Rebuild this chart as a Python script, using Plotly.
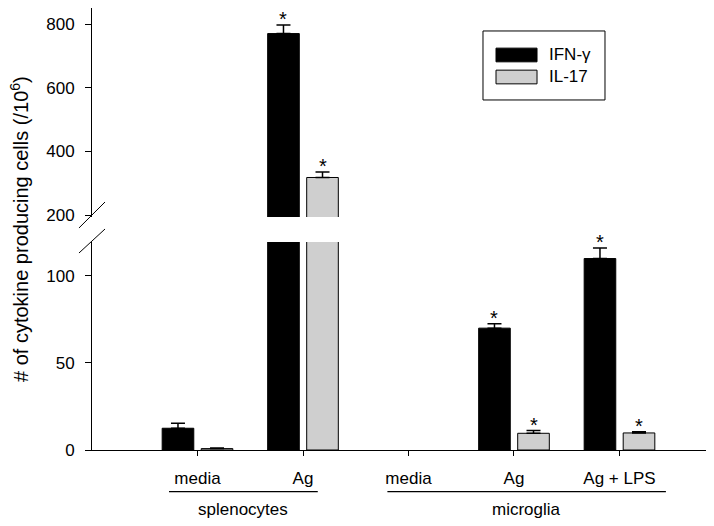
import plotly.graph_objects as go

# data
groups = ["splenocytes", "splenocytes", "microglia", "microglia", "microglia"]
conditions = ["media", "Ag", "media", "Ag", "Ag + LPS"]
ifn = [12.5, 770, 0, 70, 110]
ifn_err = [2.8, 27, 0, 2.5, 6]
il17 = [0.8, 318, 0, 9.6, 9.8]
il17_err = [0.3, 17, 0, 1.6, 0.7]
signif_ifn = [False, True, False, True, True]
signif_il17 = [False, True, False, True, True]

xpos = list(range(1, len(conditions) + 1))
LOW_MAX = 119.5
FONT = "Liberation Sans, Arial, sans-serif"


def shown(vals):
    # nothing is drawn where the value is zero (no bar, no error cap)
    return [v if v > 0 else None for v in vals]


fig = go.Figure()

# each series drawn twice: lower axis (0-120) and upper axis (200-850)
for ax in ["y", "y2"]:
    fig.add_trace(go.Bar(x=xpos, y=shown(ifn), name="IFN-γ", yaxis=ax, showlegend=False,
                         marker=dict(color="black", line=dict(color="black", width=1)),
                         error_y=dict(type="data", symmetric=False, array=ifn_err,
                                      arrayminus=[0] * len(ifn), color="black",
                                      thickness=1.5, width=7)))
    fig.add_trace(go.Bar(x=xpos, y=shown(il17), name="IL-17", yaxis=ax, showlegend=False,
                         marker=dict(color="#cfcfcf", line=dict(color="black", width=1)),
                         error_y=dict(type="data", symmetric=False, array=il17_err,
                                      arrayminus=[0] * len(il17), color="black",
                                      thickness=1.5, width=7)))

# significance stars
star_off = {"IFN": -0.185, "IL": 0.185}
for vals, errs, sig, key in [(ifn, ifn_err, signif_ifn, "IFN"), (il17, il17_err, signif_il17, "IL")]:
    for x, v, e, s in zip(xpos, vals, errs, sig):
        if not s:
            continue
        top = v + e
        fig.add_annotation(x=x + star_off[key], y=top, xref="x",
                           yref="y" if top < LOW_MAX else "y2",
                           text="*", showarrow=False, xanchor="center", yanchor="bottom",
                           yshift=-7, font=dict(size=20, color="black", family=FONT))

# page body has an 8px margin, so the figure is 8px smaller than the window
fig.update_layout(
    width=706, height=518,
    margin=dict(l=84, r=8, t=0, b=76),
    plot_bgcolor="white", paper_bgcolor="white",
    barmode="group", bargap=0.26, bargroupgap=0.19,
    font=dict(family=FONT, size=17, color="black"),
    xaxis=dict(range=[0, 5.82], tickvals=xpos, ticktext=conditions,
               showline=True, linecolor="black", linewidth=1, ticks="outside",
               ticklen=5, tickcolor="black", showgrid=False, zeroline=False,
               ticklabelstandoff=8, anchor="y"),
    yaxis=dict(domain=[0, 0.4706], range=[0, LOW_MAX], tickvals=[0, 50, 100],
               showline=True, linecolor="black", linewidth=1, ticks="outside",
               ticklen=6, tickcolor="black", showgrid=False, zeroline=False,
               ticklabelstandoff=7),
    yaxis2=dict(domain=[0.527, 1], range=[193.7, 850.3], tickvals=[200, 400, 600, 800],
                showline=True, linecolor="black", linewidth=1, ticks="outside",
                ticklen=6, tickcolor="black", showgrid=False, zeroline=False,
                ticklabelstandoff=7, anchor="x"),
)

# y title spanning both panels
fig.add_annotation(x=-0.1189, y=0.5, xref="paper", yref="paper",
                   xanchor="center", yanchor="middle",
                   text="# of cytokine producing cells (/10<sup>6</sup>)",
                   textangle=-90, showarrow=False, font=dict(size=20, family=FONT))

# axis break marks
for y0, y1 in [(0.5023, 0.5611), (0.4457, 0.5)]:
    fig.add_shape(type="line", xref="paper", yref="paper", x0=-0.0212, x1=0.0212,
                  y0=y0, y1=y1, line=dict(color="black", width=1))

# group labels under the x axis
for name, x0, x1 in [("splenocytes", 0.73, 2.14), ("microglia", 2.80, 5.44)]:
    fig.add_shape(type="line", xref="x", yref="paper", x0=x0, x1=x1,
                  y0=-0.0943, y1=-0.0943, line=dict(color="black", width=1.2))
    fig.add_annotation(x=(x0 + x1) / 2, y=-0.1335, xref="x", yref="paper", text=name,
                       xanchor="center", yanchor="middle",
                       showarrow=False, font=dict(size=17, family=FONT))

# legend box drawn by hand (wide swatches as in the original)
fig.add_shape(type="rect", xref="paper", yref="paper", x0=0.6368, x1=0.8355,
              y0=0.7919, y1=0.948, line=dict(color="black", width=1))
for label, color, yc in [("IFN-γ", "black", 0.8937), ("IL-17", "#cfcfcf", 0.8439)]:
    fig.add_shape(type="rect", xref="paper", yref="paper", x0=0.658, x1=0.7248,
                  y0=yc - 0.0155, y1=yc + 0.0155, fillcolor=color,
                  line=dict(color="black", width=1))
    fig.add_annotation(x=0.741, y=yc, xref="paper", yref="paper", text=label,
                       showarrow=False, xanchor="left", yanchor="middle",
                       font=dict(size=17, family=FONT))

fig.write_html("out.html")
